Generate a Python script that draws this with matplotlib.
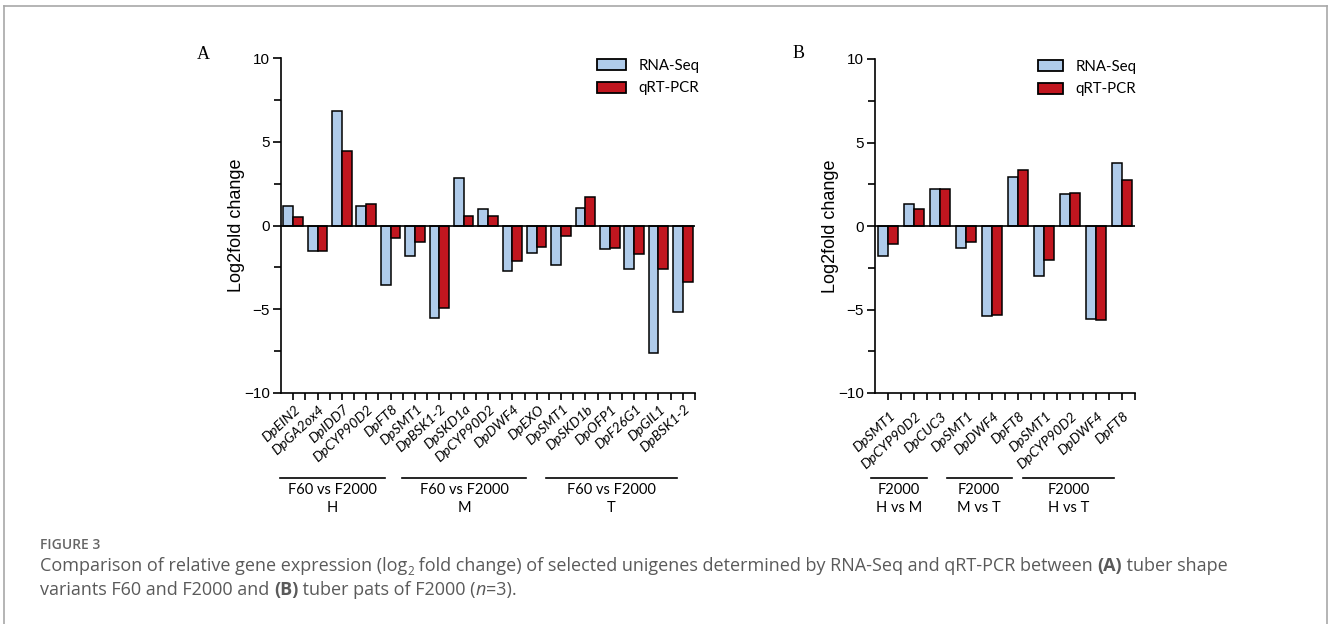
import matplotlib
matplotlib.use("Agg")
import matplotlib.pyplot as plt
import matplotlib.transforms as mtransforms
from matplotlib.lines import Line2D
from matplotlib.patches import Patch
import numpy as np

# ---------------- data ----------------
genes_a = ["DpEIN2", "DpGA2ox4", "DpIDD7", "DpCYP90D2", "DpFT8",
           "DpSMT1", "DpBSK1-2", "DpSKD1a", "DpCYP90D2", "DpDWF4", "DpEXO",
           "DpSMT1", "DpSKD1b", "DpOFP1", "DpF26G1", "DpGIL1", "DpBSK1-2"]
rnaseq_a = [1.16, -1.54, 6.83, 1.16, -3.57,
            -1.80, -5.55, 2.81, 1.00, -2.73, -1.64,
            -2.34, 1.04, -1.42, -2.59, -7.60, -5.15]
qrtpcr_a = [0.48, -1.52, 4.47, 1.28, -0.74,
            -0.98, -4.93, 0.56, 0.56, -2.14, -1.28,
            -0.62, 1.68, -1.36, -1.72, -2.57, -3.39]
groups_a = [("F60 vs F2000", "H", -0.1, 8.55),
            ("F60 vs F2000", "M", 9.95, 20.1),
            ("F60 vs F2000", "T", 21.8, 32.5)]

genes_b = ["DpSMT1", "DpCYP90D2", "DpCUC3",
           "DpSMT1", "DpDWF4", "DpFT8",
           "DpSMT1", "DpCYP90D2", "DpDWF4", "DpFT8"]
rnaseq_b = [-1.78, 1.34, 2.20, -1.34, -5.40, 2.92, -3.02, 1.92, -5.54, 3.80]
qrtpcr_b = [-1.08, 1.02, 2.22, -0.96, -5.32, 3.36, -2.04, 2.00, -5.60, 2.78]
groups_b = [("F2000", "H vs M", -0.3, 4.0),
            ("F2000", "M vs T", 5.5, 10.5),
            ("F2000", "H vs T", 11.4, 18.4)]

yticks = [-10, -5, 0, 5, 10]
series_names = ["RNA-Seq", "qRT-PCR"]

BLUE = "#AFCBEA"
RED = "#C1161F"

W, H = 1328, 624
fig = plt.figure(figsize=(W / 100, H / 100), dpi=100)


def fx(x):
    return x / W


def fy(y):
    return 1 - y / H


def rect(l, t, r, b):
    return [fx(l), fy(b), (r - l) / W, (b - t) / H]


LAB_FONT = ["Lato", "DejaVu Sans"]
NUM_FONT = ["Liberation Sans", "DejaVu Sans"]


def panel(box, genes, rs, qr, groups, letter, letter_xy, leg_xy, grp_y, lab_y,
          hl):
    ax = fig.add_axes(rect(*box))
    n = len(genes)
    centers = np.arange(n) * 2 + 1
    ax.bar(centers - 0.4, rs, width=0.8, color=BLUE, edgecolor="black",
           linewidth=1.1, zorder=2, label=series_names[0])
    ax.bar(centers + 0.4, qr, width=0.8, color=RED, edgecolor="black",
           linewidth=1.1, zorder=2, label=series_names[1])
    ax.axhline(0, color="black", lw=1.2, zorder=3)
    ax.set_xlim(0, 2 * n)
    ax.set_ylim(-10, 10)
    for s in ["top", "right"]:
        ax.spines[s].set_visible(False)
    for s in ["left", "bottom"]:
        ax.spines[s].set_linewidth(1.2)
    ax.set_yticks(yticks)
    ax.set_yticks(np.arange(-10, 10.1, 2.5), minor=True)
    ax.set_yticklabels([("\u2212" if v < 0 else "") + str(abs(v)) for v in yticks],
                       fontfamily=NUM_FONT, fontsize=11)
    ax.tick_params(axis="y", which="major", length=6, width=1.2, pad=2)
    ax.tick_params(axis="y", which="minor", length=5, width=1.2)
    ax.set_xticks(np.arange(1, 2 * n + 1))
    ax.set_xticklabels([])
    ax.tick_params(axis="x", which="major", length=5, width=1.2)
    ax.set_ylabel("Log2fold change", fontfamily=NUM_FONT, fontsize=13,
                  labelpad=-1)

    # gene labels
    trans = mtransforms.blended_transform_factory(ax.transData, fig.transFigure)
    off = mtransforms.ScaledTranslation(1 / 100, 0, fig.dpi_scale_trans)
    for c, g in zip(centers, genes):
        ax.text(c, fy(lab_y), g, transform=trans + off, rotation=43,
                rotation_mode="anchor", ha="right", va="top",
                fontfamily=LAB_FONT, fontstyle="italic", fontsize=10.1)

    # group lines
    for top, bottom, x0, x1 in groups:
        ax.add_line(Line2D([x0, x1], [fy(grp_y), fy(grp_y)], transform=trans,
                           color="black", lw=1.2, clip_on=False))
        xc = (x0 + x1) / 2
        ax.text(xc, fy(grp_y + 12), top, transform=trans, ha="center",
                va="center", fontfamily=LAB_FONT, fontsize=10.5)
        ax.text(xc, fy(grp_y + 30), bottom, transform=trans, ha="center",
                va="center", fontfamily=LAB_FONT, fontsize=10.5)

    fig.text(fx(letter_xy[0]), fy(letter_xy[1]), letter,
             fontfamily=["Liberation Serif", "DejaVu Serif"], fontsize=13,
             ha="left", va="baseline")

    handles = [Patch(facecolor=BLUE, edgecolor="black", linewidth=1.3),
               Patch(facecolor=RED, edgecolor="black", linewidth=1.3)]
    ax.legend(handles, series_names, loc="upper left",
              bbox_to_anchor=(fx(leg_xy[0]), fy(leg_xy[1])),
              bbox_transform=fig.transFigure, frameon=False,
              prop={"family": LAB_FONT, "size": 10.8},
              handlelength=hl, handleheight=0.75, handletextpad=0.85,
              labelspacing=0.55, borderpad=0, borderaxespad=0)
    return ax


panel((281, 58, 695, 393), genes_a, rnaseq_a, qrtpcr_a, groups_a, "A",
      (197, 59), (597, 59), 478, 403, 1.9)
panel((875, 59, 1135, 393), genes_b, rnaseq_b, qrtpcr_b, groups_b, "B",
      (793, 58), (1038, 60), 478, 410, 1.65)

# frame
fcol = "#A8A8A8"
fig.add_artist(Line2D([fx(4), fx(1327)], [fy(6), fy(6)], color=fcol, lw=1.2))
fig.add_artist(Line2D([fx(4), fx(4)], [fy(6), fy(624)], color=fcol, lw=1.2))
fig.add_artist(Line2D([fx(1327), fx(1327)], [fy(6), fy(624)], color=fcol, lw=1.2))

# caption
CAP = ["Open Sans", "DejaVu Sans"]
gray = "#5A5A5A"
fig.text(fx(40), fy(549), "FIGURE 3", fontfamily=CAP, fontweight="semibold",
         fontsize=10, color="#666666", va="baseline")

renderer = fig.canvas.get_renderer()


def write_line(pieces, x, y, size):
    for txt, kind in pieces:
        kw = dict(fontfamily=CAP, color=gray, va="baseline", fontsize=size)
        yy = y
        if kind == "b":
            kw["fontweight"] = "bold"
        elif kind == "i":
            kw["fontstyle"] = "italic"
        elif kind == "sub":
            kw["fontsize"] = size * 0.65
            yy = y + 4
        t = fig.text(fx(x), fy(yy), txt, **kw)
        bb = t.get_window_extent(renderer)
        x = bb.x1


cs = 13
write_line([("Comparison of relative gene expression (log", "r"), ("2", "sub"),
            (" fold change) of selected unigenes determined by RNA-Seq and qRT-PCR between ", "r"),
            ("(A)", "b"), (" tuber shape", "r")], 40, 571, cs)
write_line([("variants F60 and F2000 and ", "r"), ("(B)", "b"),
            (" tuber pats of F2000 (", "r"), ("n", "i"), ("=3).", "r")], 40, 595, cs)

fig.savefig("out.png", dpi=100)
